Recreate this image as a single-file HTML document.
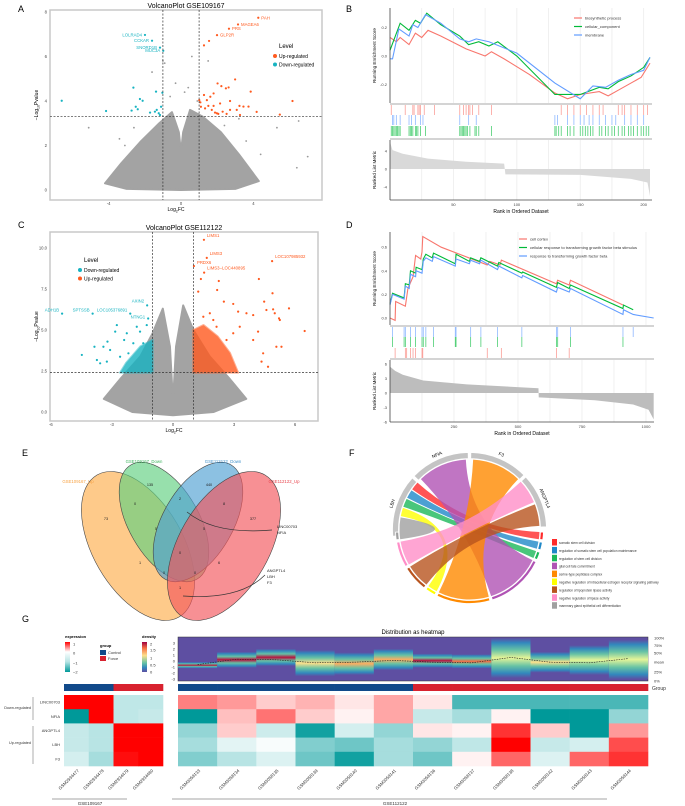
<!DOCTYPE html>
<html><head><meta charset="utf-8"><style>
html,body{margin:0;padding:0;background:#fff;}
svg{display:block;font-family:"Liberation Sans",sans-serif;}
</style></head><body>
<svg id="fig" width="685" height="806" viewBox="0 0 685 806">
<defs>
<linearGradient id="exprGrad" x1="0" y1="0" x2="0" y2="1"><stop offset="0" stop-color="#ff0000"/><stop offset="0.33" stop-color="#ffffff"/><stop offset="0.66" stop-color="#b8e4e4"/><stop offset="1" stop-color="#009999"/></linearGradient>
<linearGradient id="densGrad" x1="0" y1="0" x2="0" y2="1"><stop offset="0" stop-color="#9e0142"/><stop offset="0.2" stop-color="#f46d43"/><stop offset="0.45" stop-color="#fee08b"/><stop offset="0.7" stop-color="#66c2a5"/><stop offset="0.85" stop-color="#3288bd"/><stop offset="1" stop-color="#5e4fa2"/></linearGradient>
</defs>
<g font-size="9">
<text x="18" y="12">A</text>
<text x="346" y="12">B</text>
<text x="18" y="228">C</text>
<text x="346" y="228">D</text>
<text x="22" y="456">E</text>
<text x="349" y="456">F</text>
<text x="22" y="622">G</text>
</g>
<g id="pA"></g>
<g id="pB"></g>
<g id="pC"></g>
<g id="pD"></g>
<g id="pE"></g>
<g id="pF"></g>
<g id="pG"></g>
</svg>
<script>
// ===== Data: panel A =====
const aUpFC=[1.01,1.27,1.43,1.62,1.80,2.02,2.16,2.23,2.48,2.63,2.71,2.99,3.08,3.23,3.26,3.45,3.73,3.85,4.18,5.46,6.16,1.10,1.33,1.51,1.70,1.88,2.06,2.30,2.52,2.71,1.98,1.07,1.80,1.55,1.27];
const aUpP=[4.04,4.27,4.04,4.19,4.34,4.79,3.89,4.67,4.57,4.61,4.0,4.97,3.6,3.78,3.37,3.75,3.75,4.42,3.51,3.39,4.0,3.74,3.67,3.78,3.6,3.48,3.42,3.52,3.42,3.6,3.45,3.94,3.78,6.7,6.5];
const aDownFC=[-6.59,-4.14,-2.63,-2.73,-2.5,-2.39,-2.27,-2.12,-1.71,-1.44,-1.34,-1.38,-1.23,-1.16,-1.1,-1.03];
const aDownP=[4.01,3.55,4.6,3.57,3.74,3.63,4.09,4.01,3.48,3.52,3.6,4.42,3.45,3.37,3.74,4.37];
const aLabNames=["PAH","MAGEA6","PRS","GLP2R","LOLRAD4","CCKAR","SNORD1B","MUC3A"];
const aLabFC=[4.27,3.15,2.65,1.99,-1.99,-1.6,-1.16,-0.98];
const aLabP=[7.74,7.44,7.25,6.96,6.97,6.71,6.4,6.26];
const aCloudFC=[-4.2,-3.3,-2.2,-1.2,-0.5,-0.12,0,0.12,0.5,1.2,2.2,3.2,4.3,3,0,-3];
const aCloudP=[0.3,1.2,2.2,3.0,3.5,2.6,1.7,2.6,3.6,3.3,2.6,1.6,0.4,0.05,0,0.05];
const aGreyFC=[-5.1,-3.1,-3.4,2.4,3.2,5.3,6.5,7.0,6.4,-0.9,-1.6,1.5,0.2,-1.0,0.6,-0.6,0.4,-0.3,0.9,-2.6,3.6,4.4];
const aGreyP=[2.8,2.0,2.3,2.9,3.2,2.8,3.1,1.5,1.0,5.7,5.3,5.8,4.4,5.8,6.0,4.2,4.6,4.8,4.0,2.8,2.2,1.6];
// ===== Data: panel C =====
const cUpFC=[1.24,1.37,2.25,2.17,2.5,2.96,3.2,3.61,3.94,4.22,4.48,4.59,4.89,4.92,5.0,5.21,5.25,5.7,6.47,4.18,5.08,5.33,4.43,4.67,4.35,3.94,3.28,2.96,2.63,2.14,1.98,1.81,1.49];
const cUpP=[7.34,8.11,7.99,7.44,6.73,6.59,6.12,6.02,5.91,8.11,6.73,6.22,7.24,6.26,6.02,5.71,5.61,6.32,4.94,4.9,3.98,3.98,3.58,2.76,3.07,4.39,5.2,4.8,4.39,5.2,5.61,6.02,5.81];
const cDownFC=[-4.48,-3.86,-3.74,-3.58,-3.42,-3.22,-3.09,-2.76,-2.84,-3.25,-2.6,-2.4,-2.27,-1.78,-1.62,-1.29,-2.19,-1.95,-1.46];
const cDownP=[3.48,3.98,3.17,2.97,3.98,4.29,3.78,5.3,4.9,3.07,3.37,4.39,4.8,5.2,4.9,5.3,3.58,4.19,4.19];
const cLabNames=["LIMS1","LIMS3","PRDX6","LIMS3−LOC440895","LOC107985932","ADH1B","SPTSSB","LOC105376891","AXIN2","NTNG1"];
const cLabFC=[1.52,1.66,1.03,1.53,4.87,-5.45,-3.95,-2.1,-1.27,-1.22];
const cLabP=[10.5,9.4,8.9,8.5,9.2,6.0,6.0,6.0,6.5,5.7];
const cCloudFC=[-3.4,-2.6,-1.6,-1.0,-0.5,-0.15,0,0.15,0.5,1.0,1.8,2.8,3.6,2,0,-2];
const cCloudP=[0.8,2.0,3.4,4.8,6.3,4.0,0.6,4.0,6.5,5.0,3.4,2.0,0.8,0,-0.2,0];
const cOrangeFC=[1.0,1.0,1.5,2.2,2.8,3.2];
const cOrangeP=[2.4,5.0,5.3,4.6,3.6,2.4];
const cTealFC=[-1.0,-1.0,-1.6,-2.3,-2.6];
const cTealP=[2.4,4.4,4.0,3.0,2.4];
// ===== Data: panel B (GSEA) =====
const bNames=["biosynthetic process","cellular_component","membrane"];
const bRed=[[0,0.13],[5,0.10],[8,0.13],[15,0.08],[20,0.16],[25,0.13],[30,0.18],[40,0.14],[60,0.05],[75,0.0],[80,0.03],[90,-0.02],[110,-0.13],[130,-0.26],[140,-0.30],[150,-0.27],[165,-0.25],[172,-0.28],[180,-0.24],[190,-0.19],[198,-0.15],[205,-0.05]];
const bGreen=[[0,0.04],[8,0.23],[15,0.18],[20,0.25],[24,0.23],[29,0.30],[40,0.22],[55,0.14],[62,0.08],[70,0.10],[78,0.07],[85,0.10],[100,0.0],[130,-0.27],[140,-0.27],[150,-0.27],[165,-0.22],[172,-0.23],[180,-0.18],[190,-0.14],[200,-0.08],[205,-0.01]];
const bBlue=[[0,-0.02],[2,-0.02],[7,0.19],[15,0.14],[18,0.22],[22,0.20],[28,0.29],[40,0.23],[55,0.12],[62,0.10],[68,0.12],[78,0.10],[100,0.02],[130,-0.19],[150,-0.30],[160,-0.21],[170,-0.22],[180,-0.17],[190,-0.13],[200,-0.10],[205,-0.01]];
const bRugRed=[1,12,18,19,22,23,24,27,35,55,58,60,62,63,65,70,80,135,140,145,150,155,160,165,168,180,183,185,190,195,200,203];
const bRugBlue=[2,3,5,8,15,17,20,24,26,55,62,68,130,132,140,145,150,153,157,160,165,170,175,178,185,190,195,200];
const bRugGreen=[1,2,3,4,5,6,7,8,15,16,17,18,20,21,22,24,28,55,56,57,58,59,60,61,63,67,68,70,80,130,131,133,135,140,142,145,150,152,154,156,158,160,165,167,170,172,175,177,180,183,185,188,190,192,195,198,200,202,204];
const bMetricRank=[0,2,10,30,60,90,91,150,190,203,205];
const bMetricVal=[6,4.2,3.4,2.3,1.6,1.2,-1.2,-1.3,-2.2,-3,-6];
const bTicks=[50,100,150,200];
// ===== Data: panel D =====
const dNames=["cell cortex","cellular response to transforming growth factor beta stimulus","response to transforming growth factor beta"];
const dRed=[[0,0],[20,-0.02],[22,0.14],[60,0.10],[70,0.25],[90,0.35],[100,0.53],[120,0.50],[125,0.56],[128,0.69],[200,0.60],[380,0.45],[390,0.48],[430,0.45],[435,0.49],[650,0.29],[655,0.32],[700,0.28],[705,0.32],[910,0.11]];
const dGreen=[[0,0.12],[10,0.21],[55,0.17],[60,0.29],[75,0.28],[80,0.40],[100,0.38],[102,0.43],[125,0.41],[130,0.50],[140,0.54],[165,0.51],[170,0.55],[255,0.46],[258,0.54],[310,0.48],[315,0.51],[350,0.48],[355,0.51],[420,0.44],[425,0.47],[515,0.38],[518,0.39],[650,0.26],[655,0.30],[700,0.25],[705,0.28],[910,0.08],[912,0.11],[950,0.07]];
const dBlue=[[0,0.11],[10,0.20],[55,0.16],[60,0.27],[75,0.25],[80,0.37],[100,0.35],[102,0.40],[125,0.38],[130,0.48],[140,0.51],[165,0.48],[170,0.52],[255,0.44],[258,0.50],[310,0.46],[315,0.49],[350,0.46],[355,0.49],[420,0.41],[425,0.44],[515,0.34],[518,0.36],[650,0.22],[655,0.26],[700,0.22],[705,0.25],[910,0.03],[912,0.07],[950,0.03],[1030,0.0]];
const dRugBlue=[10,55,60,80,100,125,130,140,170,255,258,315,355,420,515,650,655,705,910,950];
const dRugGreen=[10,55,60,80,100,125,130,140,170,255,258,315,355,420,515,650,655,705,910];
const dRugRed=[20,60,65,80,90,100,125,128,380,435,650,700];
const dMetricRank=[0,20,50,130,300,580,581,800,950,1010,1030];
const dMetricVal=[5.5,4.6,3.8,2.6,1.8,1.0,-0.9,-1.5,-2.4,-3.5,-5.5];
const dTicks=[250,500,750,1000];
// ===== Data: panel E (Venn) =====
const vennSets=["GSE109167_Up","GSE109167_Down","GSE112122_Down","GSE112122_Up"];
const vennCounts=["73","135","440","377","0","2","8","5","5","0","1","6","0","0","1"];
// ===== Data: panel F (chord) =====
const genes=["NFIA","F3","ANGPTL4","LBH"];
const geneStart=[-46,1,47,-95];
const geneEnd=[-1,45,88,-48];
const terms=["somatic stem cell division","regulation of somatic stem cell population maintenance","regulation of stem cell division","glial cell fate commitment","serine-type peptidase complex","negative regulation of intracellular estrogen receptor signaling pathway","regulation of lipoprotein lipase activity","negative regulation of lipase activity","mammary gland epithelial cell differentiation"];
const termStart=[92,100,108,116,164,208,218,240,262];
const termEnd=[98,106,114,162,206,216,238,260,268];
const linkGene=[3,3,3,0,1,3,2,2,3];
const linkGeneStart=[-55,-63,-71,-44,3,-79,69,47,-92];
const linkGeneEnd=[-48,-56,-64,-3,44,-72,87,67,-80];
// ===== Data: panel G (heatmap) =====
const hmGenes=["LINC00703","NFIA","ANGPTL4","LBH","F3"];
const leftSamples=["GSM2934477","GSM2934478","GSM2934479","GSM2934480"];
const leftValues=[[1,1,-0.9,-0.9],[-2,1,-0.9,-0.8],[-0.8,-1.0,1,1],[-0.8,-1.0,1,1],[-0.6,-1.1,0.95,1]];
const rightSamples=["GSM3058133","GSM3058134","GSM3058135","GSM3058139","GSM3058140","GSM3058141","GSM3058136","GSM3058137","GSM3058138","GSM3058142","GSM3058143","GSM3058144"];
const rightValues=[[0.5,0.4,0.2,0.3,0.1,0.35,0.1,-1.6,-1.6,-1.6,-1.6,-1.6],[-2,0.25,0.55,0.2,0.05,0.35,-0.8,-1.1,0.05,-2,-2,-1.2],[-1.2,0.2,-0.7,-1.9,-0.6,-1.2,0.1,0.05,0.8,0.2,-2,0.4],[-1.1,-0.4,-0.1,-1.3,-1.4,-1.1,-1.2,-0.9,1.0,-0.8,-0.6,0.7],[-1.3,-1.0,-0.5,-1.4,-1.9,-1.1,-1.4,0.05,0.6,-0.5,0.6,0.8]];
const leftGroups=["Control","Control","Force","Force"];
const rightGroups=["Control","Control","Control","Control","Control","Control","Force","Force","Force","Force","Force","Force"];
const distLo=[-0.9,-0.8,-0.5,-2.2,-2,-1.2,-0.8,-0.9,-2.5,-1.6,-2,-2.7];
const distHi=[-0.5,1.2,1.7,1.5,1.1,1.7,0.9,0.8,3.5,1.2,2.3,3.2];
const distPeak=[2,1.8,2,0.8,1.2,1,1.8,1.6,0.6,0.8,0.6,0.5];
const distMean=[-0.6,0.3,0.2,-0.3,-0.2,0.1,-0.2,-0.3,0.6,-0.2,-0.3,0.4];

// ===== helpers =====
const NS='http://www.w3.org/2000/svg';
function mk(tag,attrs,parent){const e=document.createElementNS(NS,tag);for(const k in attrs)e.setAttribute(k,attrs[k]);parent.appendChild(e);return e;}
function tx(parent,x,y,s,size,extra){const e=mk('text',Object.assign({x:x,y:y,'font-size':size},extra||{}),parent);e.textContent=s;return e;}
const UP='#ff5a1f',DN='#17b3c1',GREY='#9a9a9a';

// ===== Volcano =====
function volcano(g,o){
  const sx=v=>o.x0+v*o.kx, sy=v=>o.y0-v*o.ky;
  let f=mk('rect',{x:o.L,y:o.T,width:o.R-o.L,height:o.B-o.T,fill:'#fff',stroke:'#c8c8c8','stroke-width':1.5},g);
  
  
  let t=tx(g,(o.L+o.R)/2,o.T-2,o.title,7,{'text-anchor':'middle'});
  
  
  let pts=o.cloudFC.map((v,i)=>sx(v)+','+sy(o.cloudP[i])).join(' ');
  let cl=mk('polygon',{points:pts,fill:GREY,opacity:0.9,stroke:GREY,'stroke-width':2,'stroke-linejoin':'round'},g);
  
  
  o.greyFC.forEach((v,i)=>{let c=mk('circle',{cx:sx(v),cy:sy(o.greyP[i]),r:0.9,fill:GREY},g);
    
    });
  if(o.blobs){o.blobs.forEach(b=>{let p=mk('polygon',{points:b.fc.map((v,i)=>sx(v)+','+sy(b.p[i])).join(' '),fill:b.col,opacity:0.8,stroke:b.col,'stroke-width':2,'stroke-linejoin':'round','stroke-opacity':0.6},g);
    
    });}
  o.upFC.forEach((v,i)=>{let c=mk('circle',{cx:sx(v),cy:sy(o.upP[i]),r:1.1,fill:UP},g);
    
    });
  o.dnFC.forEach((v,i)=>{let c=mk('circle',{cx:sx(v),cy:sy(o.dnP[i]),r:1.1,fill:DN},g);
    
    });
  o.labNames.forEach((n,i)=>{const fc=o.labFC[i],p=o.labP[i],col=fc>0?UP:DN;
    let c=mk('circle',{cx:sx(fc),cy:sy(p),r:1.1,fill:col},g);
    
    
    let l=tx(g,sx(fc)+(fc>0?3:-3),sy(p)+(o.labDy?o.labDy[i]:1.5),n,4.3,{fill:col,'text-anchor':fc>0?'start':'end'});
    
    });
  [[sx(-1),o.T,sx(-1),o.B],[sx(1),o.T,sx(1),o.B],[o.L,sy(o.pth),o.R,sy(o.pth)]].forEach(a=>{
    let ln=mk('line',{x1:a[0],y1:a[1],x2:a[2],y2:a[3],stroke:'#333','stroke-width':0.7,'stroke-dasharray':'2,1.5'},g);
    
    });
  o.yt.forEach((v,i)=>{let e=tx(g,o.L-3,sy(v)+1.5,o.ytl[i],4.2,{'text-anchor':'end',fill:'#444'});
    
    });
  o.xt.forEach((v,i)=>{let e=tx(g,sx(v),o.B+5,o.xtl[i],4.2,{'text-anchor':'middle',fill:'#444'});
    
    });
  let xl=tx(g,(o.L+o.R)/2-10,o.B+11,'Log',5,{'text-anchor':'middle'});
  xl.innerHTML='Log<tspan font-size="3.5" dy="1.5">2</tspan><tspan dy="-1.5">FC</tspan>';
  
  
  let yl=tx(g,0,0,'',5,{'text-anchor':'middle',transform:`translate(${o.L-12},${(o.T+o.B)/2}) rotate(-90)`});
  yl.innerHTML='−Log<tspan font-size="3.5" dy="1.5">10</tspan><tspan dy="-1.5">Pvalue</tspan>';
  
  
  let lg=mk('g',{},g);
  
  
  tx(lg,o.lgx,o.lgy,'Level',6);
  o.lgItems.forEach((it,i)=>{let c=mk('circle',{cx:o.lgx-4,cy:o.lgy+8+i*8.5,r:2,fill:it[1]},lg);
    
    
    let t2=tx(lg,o.lgx,o.lgy+10+i*8.5,it[0],5);
    
    });
}
volcano(document.getElementById('pA'),{L:50,R:322,T:10,B:200,x0:181,kx:18.1,y0:190,ky:22.25,title:'VolcanoPlot GSE109167',
 cloudFC:aCloudFC,cloudP:aCloudP,greyFC:aGreyFC,greyP:aGreyP,upFC:aUpFC,upP:aUpP,dnFC:aDownFC,dnP:aDownP,
 labNames:aLabNames,labFC:aLabFC,labP:aLabP,pth:3.3,yt:[0,2,4,6,8],ytl:['0','2','4','6','8'],xt:[-4,0,4],xtl:['-4','0','4'],
 lgx:279,lgy:48,lgItems:[['Up-regulated',UP],['Down-regulated',DN]]});
volcano(document.getElementById('pC'),{L:50,R:318,T:232,B:421,x0:173,kx:20.35,y0:412,ky:16.4,title:'VolcanoPlot GSE112122',
 cloudFC:cCloudFC,cloudP:cCloudP,greyFC:[],greyP:[],upFC:cUpFC,upP:cUpP,dnFC:cDownFC,dnP:cDownP,
 blobs:[{fc:cOrangeFC,p:cOrangeP,col:UP},{fc:cTealFC,p:cTealP,col:DN}],
 labNames:cLabNames,labFC:cLabFC,labP:cLabP,labDy:[-3,-3,-2,-3,-3,-2,-2,-2,-3,0],pth:2.4,
 yt:[0,2.5,5,7.5,10],ytl:['0.0','2.5','5.0','7.5','10.0'],xt:[-6,-3,0,3,6],xtl:['-6','-3','0','3','6'],
 lgx:84,lgy:262,lgItems:[['Down-regulated',DN],['Up-regulated',UP]]});

// ===== GSEA =====
function gsea(g,o){
  const sx=r=>o.L+r*o.kx;
  const esY=v=>o.es0-v*o.esk, mY=v=>o.m0-v*o.mk;
  o.grid.forEach(r=>{let l=mk('line',{x1:sx(r),y1:o.esT,x2:sx(r),y2:o.esB,stroke:'#ececec','stroke-width':0.8},g);
    
    
    let l2=mk('line',{x1:sx(r),y1:o.mT,x2:sx(r),y2:o.mB,stroke:'#ececec','stroke-width':0.8},g);
    
    });
  o.series.forEach((s,k)=>{let d='';s.forEach((p,i)=>{const x=sx(p[0]),y=esY(p[1]);d+=(i?'L':'M')+x+','+y;});
    let pa=mk('path',{d:d,fill:'none',stroke:o.cols[k],'stroke-width':1.1},g);
    
    });
  o.rugs.forEach((rug,k)=>{rug.ranks.forEach(r=>{let l=mk('line',{x1:sx(r),y1:rug.y1,x2:sx(r),y2:rug.y2,stroke:rug.col,'stroke-width':0.8,opacity:0.7},g);
    
    });});
  let d='M'+sx(o.mRank[0])+','+mY(0);o.mRank.forEach((r,i)=>{d+='L'+sx(r)+','+mY(o.mVal[i]);});d+='L'+sx(o.mRank[o.mRank.length-1])+','+mY(0)+'Z';
  let ar=mk('path',{d:d,fill:o.mFill,stroke:'none'},g);
  
  
  [[o.L,o.esT,o.L,o.esB],[o.L,o.mT,o.L,o.mB],[o.L,o.mB,o.R,o.mB],[o.L,o.esB+1,o.R,o.esB+1],[o.L,o.mT-1,o.R,o.mT-1]].forEach((a,i)=>{
    let l=mk('line',{x1:a[0],y1:a[1],x2:a[2],y2:a[3],stroke:i<3?'#444':'#555','stroke-width':i<3?0.8:0.5},g);
    
    });
  o.esT_ticks.forEach(v=>{let t=tx(g,o.L-3,esY(v)+1.5,v.toFixed(1),4,{'text-anchor':'end',fill:'#444'});
    
    });
  o.mTicks.forEach(v=>{let t=tx(g,o.L-3,mY(v)+1.5,String(v),4,{'text-anchor':'end',fill:'#444'});
    
    });
  o.xTicks.forEach(v=>{let t=tx(g,sx(v),o.mB+6,String(v),4,{'text-anchor':'middle',fill:'#444'});
    
    });
  let xl=tx(g,(o.L+o.R)/2,o.mB+13,'Rank in Ordered Dataset',5,{'text-anchor':'middle'});
  
  
  let y1=tx(g,0,0,'Running Enrichment Score',4.6,{'text-anchor':'middle',transform:`translate(${o.L-14},${(o.esT+o.esB)/2}) rotate(-90)`});
  
  
  let y2=tx(g,0,0,'Ranked List Metric',4.6,{'text-anchor':'middle',transform:`translate(${o.L-14},${(o.mT+o.mB)/2}) rotate(-90)`});
  
  
  o.names.forEach((n,i)=>{let l=mk('line',{x1:o.lgx,y1:o.lgy+i*8.5,x2:o.lgx+8,y2:o.lgy+i*8.5,stroke:o.cols[i],'stroke-width':1.2},g);
    
    
    let t=tx(g,o.lgx+11,o.lgy+i*8.5+1.5,n,4,{fill:'#333'});
    
    });
}
gsea(document.getElementById('pB'),{L:390,R:652,kx:260/205,esT:8,esB:103,es0:56,esk:142.5,mT:140,mB:200,m0:169,mk:4.5,
 grid:[25,50,75,100,125,150,175,200],series:[bRed,bGreen,bBlue],cols:['#f8766d','#00ba38','#619cff'],
 rugs:[{ranks:bRugRed,y1:105,y2:115,col:'#f8766d'},{ranks:bRugBlue,y1:115,y2:125,col:'#619cff'},{ranks:bRugGreen,y1:126,y2:136,col:'#00ba38'}],
 mRank:bMetricRank,mVal:bMetricVal,mFill:'#d9d9d9',esT_ticks:[0.2,0,-0.2],mTicks:[4,0,-4],xTicks:bTicks,names:bNames,lgx:574,lgy:18});
gsea(document.getElementById('pD'),{L:390,R:654,kx:0.256,esT:232,esB:325,es0:318,esk:118,mT:360,mB:422,m0:393,mk:4.8,
 grid:[125,250,375,500,625,750,875,1000],series:[dRed,dGreen,dBlue],cols:['#f8766d','#00ba38','#619cff'],
 rugs:[{ranks:dRugBlue,y1:327,y2:337,col:'#619cff'},{ranks:dRugGreen,y1:337,y2:347,col:'#00ba38'},{ranks:dRugRed,y1:348,y2:358,col:'#f8766d'}],
 mRank:dMetricRank,mVal:dMetricVal,mFill:'#bdbdbd',esT_ticks:[0.6,0.4,0.2,0],mTicks:[6,3,0,-3,-6],xTicks:dTicks,names:dNames,lgx:519,lgy:239});

// ===== Venn =====
(function(){
  const g=document.getElementById('pE');
  const ells=[{cx:138,cy:546,rx:45,ry:82,rot:-30,col:'#fdae4b'},{cx:164,cy:522,rx:35,ry:66,rot:-30,col:'#5fcf80'},{cx:198,cy:522,rx:35,ry:66,rot:30,col:'#4f9fd3'},{cx:224,cy:546,rx:45,ry:82,rot:30,col:'#f2545b'}];
  ells.forEach((e,i)=>{let el=mk('ellipse',{cx:e.cx,cy:e.cy,rx:e.rx,ry:e.ry,transform:`rotate(${e.rot},${e.cx},${e.cy})`,fill:e.col,'fill-opacity':0.65,stroke:'#444','stroke-width':0.6},g);
    
    });
  const lp=[[78,483,'#f7a140'],[144,463,'#3bb35c'],[223,463,'#3d8fc9'],[284,483,'#e8434c']];
  vennSets.forEach((s,i)=>{let t=tx(g,lp[i][0],lp[i][1],s,4.3,{'text-anchor':'middle',fill:lp[i][2]});
    
    });
  const cp=[[106,520],[150,486],[209,486],[253,520],[135,505],[180,500],[224,505],[156,530],[204,530],[180,554],[140,564],[219,564],[164,574],[195,574],[180,589]];
  vennCounts.forEach((c,i)=>{let t=tx(g,cp[i][0],cp[i][1],c,3.8,{'text-anchor':'middle',fill:'#222'});
    
    });
  let a1=mk('path',{d:'M187,512 Q215,535 272,530',fill:'none',stroke:'#333','stroke-width':0.7},g);
  
  
  let a2=mk('path',{d:'M183,596 Q240,600 265,575',fill:'none',stroke:'#333','stroke-width':0.7},g);
  
  
  [['LINC00703',277,528],['NFIA',277,534],['ANGPTL4',267,572],['LBH',267,578],['F3',267,584]].forEach(a=>{let t=tx(g,a[1],a[2],a[0],4,{fill:'#222'});
    
    });
})();

// ===== Chord =====
(function(){
  const g=document.getElementById('pF');
  const cx=469.5,cy=529.5,R=70;
  const termCols=['#ff2a2a','#1f88c8','#1bb85a','#b053b4','#ff8a00','#ffff00','#b8541e','#ff8ec8','#a0a0a0'];
  const P=(a,r)=>{const t=(a-90)*Math.PI/180;return [cx+r*Math.cos(t),cy+r*Math.sin(t)];};
  function arc(a1,a2,r1,r2,col){const p1=P(a1,r2),p2=P(a2,r2),p3=P(a2,r1),p4=P(a1,r1);const lg=(a2-a1)>180?1:0;
    return mk('path',{d:`M${p1}A${r2},${r2} 0 ${lg} 1 ${p2}L${p3}A${r1},${r1} 0 ${lg} 0 ${p4}Z`,fill:col,stroke:'#fff','stroke-width':0.8},g);}
  terms.forEach((t,i)=>{const a1=linkGeneStart[i],a2=linkGeneEnd[i],b1=termStart[i],b2=termEnd[i];
    const A1=P(a1,R),A2=P(a2,R),B1=P(b1,R),B2=P(b2,R);
    let rb=mk('path',{d:`M${A1}A${R},${R} 0 0 1 ${A2}Q${cx},${cy} ${B1}A${R},${R} 0 0 1 ${B2}Q${cx},${cy} ${A1}Z`,fill:termCols[i],'fill-opacity':0.8,stroke:'none'},g);
    
    });
  genes.forEach((n,i)=>{let s=arc(geneStart[i],geneEnd[i],R+1,R+7,'#c4c4c4');
    
    
    const m=(geneStart[i]+geneEnd[i])/2,p=P(m,R+10);
    let t=tx(g,p[0],p[1],n,4.6,{'text-anchor':'middle',transform:`rotate(${m},${p[0]},${p[1]})`});
    
    });
  terms.forEach((n,i)=>{let s=arc(termStart[i],termEnd[i],R+1,R+4,termCols[i]);
    
    
    let r=mk('rect',{x:552,y:539+i*7.9,width:5,height:6.5,fill:termCols[i]},g);
    
    
    let t=tx(g,559,544+i*7.9,n,3.2,{fill:'#333'});
    
    });
})();

// ===== Heatmap G =====
(function(){
  const g=document.getElementById('pG');
  function col(v){const lerp=(a,b,t)=>Math.round(a+(b-a)*t);let c1,c2,t;
    if(v>=0){c1=[255,255,255];c2=[255,0,0];t=Math.min(v,1);}
    else if(v>=-1){c1=[255,255,255];c2=[184,228,228];t=-v;}
    else{c1=[184,228,228];c2=[0,153,153];t=Math.min(-v-1,1);}
    return `rgb(${lerp(c1[0],c2[0],t)},${lerp(c1[1],c2[1],t)},${lerp(c1[2],c2[2],t)})`;}
  const T=695,rh=14.2,grpCol={Control:'#114a8a',Force:'#d8222f'};
  function block(x0,cw,samples,vals,groups){
    groups.forEach((gr,j)=>{let r=mk('rect',{x:x0+j*cw,y:684,width:cw+0.3,height:7,fill:grpCol[gr]},g);
      
      });
    vals.forEach((row,i)=>row.forEach((v,j)=>{let r=mk('rect',{x:x0+j*cw,y:T+i*rh,width:cw+0.3,height:rh+0.3,fill:col(v)},g);
      
      }));
    samples.forEach((s,j)=>{const x=x0+(j+0.5)*cw+3;let t=tx(g,x,771,s,4.4,{'text-anchor':'end',fill:'#333',transform:`rotate(-45,${x},771)`});
      
      });
  }
  block(64,24.75,leftSamples,leftValues,leftGroups);
  block(178,470/12,rightSamples,rightValues,rightGroups);
  hmGenes.forEach((n,i)=>{let t=tx(g,60,T+i*rh+rh/2+1.5,n,4,{'text-anchor':'end',fill:'#333'});
    
    });
  [['Down-regulated',709,697,720],['Up-regulated',744,726,764]].forEach(a=>{let t=tx(g,31,a[1],a[0],3.8,{'text-anchor':'end',fill:'#333'});
    
    
    let l=mk('line',{x1:33,y1:a[2],x2:33,y2:a[3],stroke:'#999','stroke-width':0.8},g);
    
    });
  let gl=tx(g,652,690,'Group',5,{fill:'#333'});
  
  
  const dL=178,dR=648,dy=v=>661-v*6,cw=(dR-dL)/12;
  let bg=mk('rect',{x:dL,y:637,width:dR-dL,height:44,fill:'#5e4fa2',stroke:'#333','stroke-width':0.5},g);
  
  
  const defs=document.querySelector('defs');
  const peakCol=d=>d>=1.8?'#b8123e':d>=1.4?'#f46d43':d>=0.9?'#fdae61':d>=0.7?'#fee08b':'#e6f598';
  distLo.forEach((lo,j)=>{const id='dg'+j;const lg=mk('linearGradient',{id:id,x1:0,y1:0,x2:0,y2:1},defs);
    [[0,'#5e4fa2'],[0.12,'#3288bd'],[0.3,'#66c2a5'],[0.5,peakCol(distPeak[j])],[0.7,'#66c2a5'],[0.88,'#3288bd'],[1,'#5e4fa2']].forEach(s=>mk('stop',{offset:s[0],'stop-color':s[1]},lg));
    let r=mk('rect',{x:dL+j*cw,y:dy(distHi[j])-2,width:cw,height:dy(lo)-dy(distHi[j])+4,fill:`url(#${id})`},g);
    
    });
  let md='';distMean.forEach((v,j)=>{md+=(j?'L':'M')+(dL+(j+0.5)*cw)+','+dy(v);});
  let ml=mk('path',{d:md,fill:'none',stroke:'#222','stroke-width':0.6,'stroke-dasharray':'1.5,1'},g);
  
  
  [3,2,1,0,-1,-2,-3].forEach(v=>{let t=tx(g,175,dy(v)+1.3,String(v),4,{'text-anchor':'end',fill:'#333'});
    
    });
  [['100%',638],['75%',645.5],['50%',653],['mean',662],['25%',672],['0%',681]].forEach(a=>{let t=tx(g,654,a[1]+1.3,a[0],4,{fill:'#333'});
    
    });
  let dt=tx(g,413,634,'Distribution as heatmap',6,{'text-anchor':'middle'});
  
  
  let e1=tx(g,65,638,'expression',4,{'font-weight':'bold'});
  
  
  let eb=mk('rect',{x:65,y:642,width:5,height:30,fill:'url(#exprGrad)'},g);
  
  
  [['1',644],['0',653],['−1',663],['−2',672]].forEach(a=>{let t=tx(g,73,a[1]+1.3,a[0],4,{fill:'#333'});
    
    });
  let g1=tx(g,100,647,'group',4,{'font-weight':'bold'});
  
  
  [['Control','#114a8a',650],['Force','#d8222f',656]].forEach(a=>{let r=mk('rect',{x:100,y:a[2],width:6,height:5,fill:a[1]},g);
    
    
    let t=tx(g,108,a[2]+4,a[0],4,{fill:'#333'});
    
    });
  let d1=tx(g,142,638,'density',4,{'font-weight':'bold'});
  
  
  let db=mk('rect',{x:142,y:642,width:5,height:30,fill:'url(#densGrad)'},g);
  
  
  [['2',644],['1.5',650],['1',658],['0.5',665],['0',672]].forEach(a=>{let t=tx(g,150,a[1]+1.3,a[0],4,{fill:'#333'});
    
    });
  [[52,127,90,'GSE109167'],[172,607,395,'GSE112122']].forEach(a=>{let l=mk('line',{x1:a[0],y1:799,x2:a[1],y2:799,stroke:'#888','stroke-width':0.8},g);
    
    
    let t=tx(g,a[2],805,a[3],4.5,{'text-anchor':'middle',fill:'#333'});
    
    });
})();
</script>
</body></html>
